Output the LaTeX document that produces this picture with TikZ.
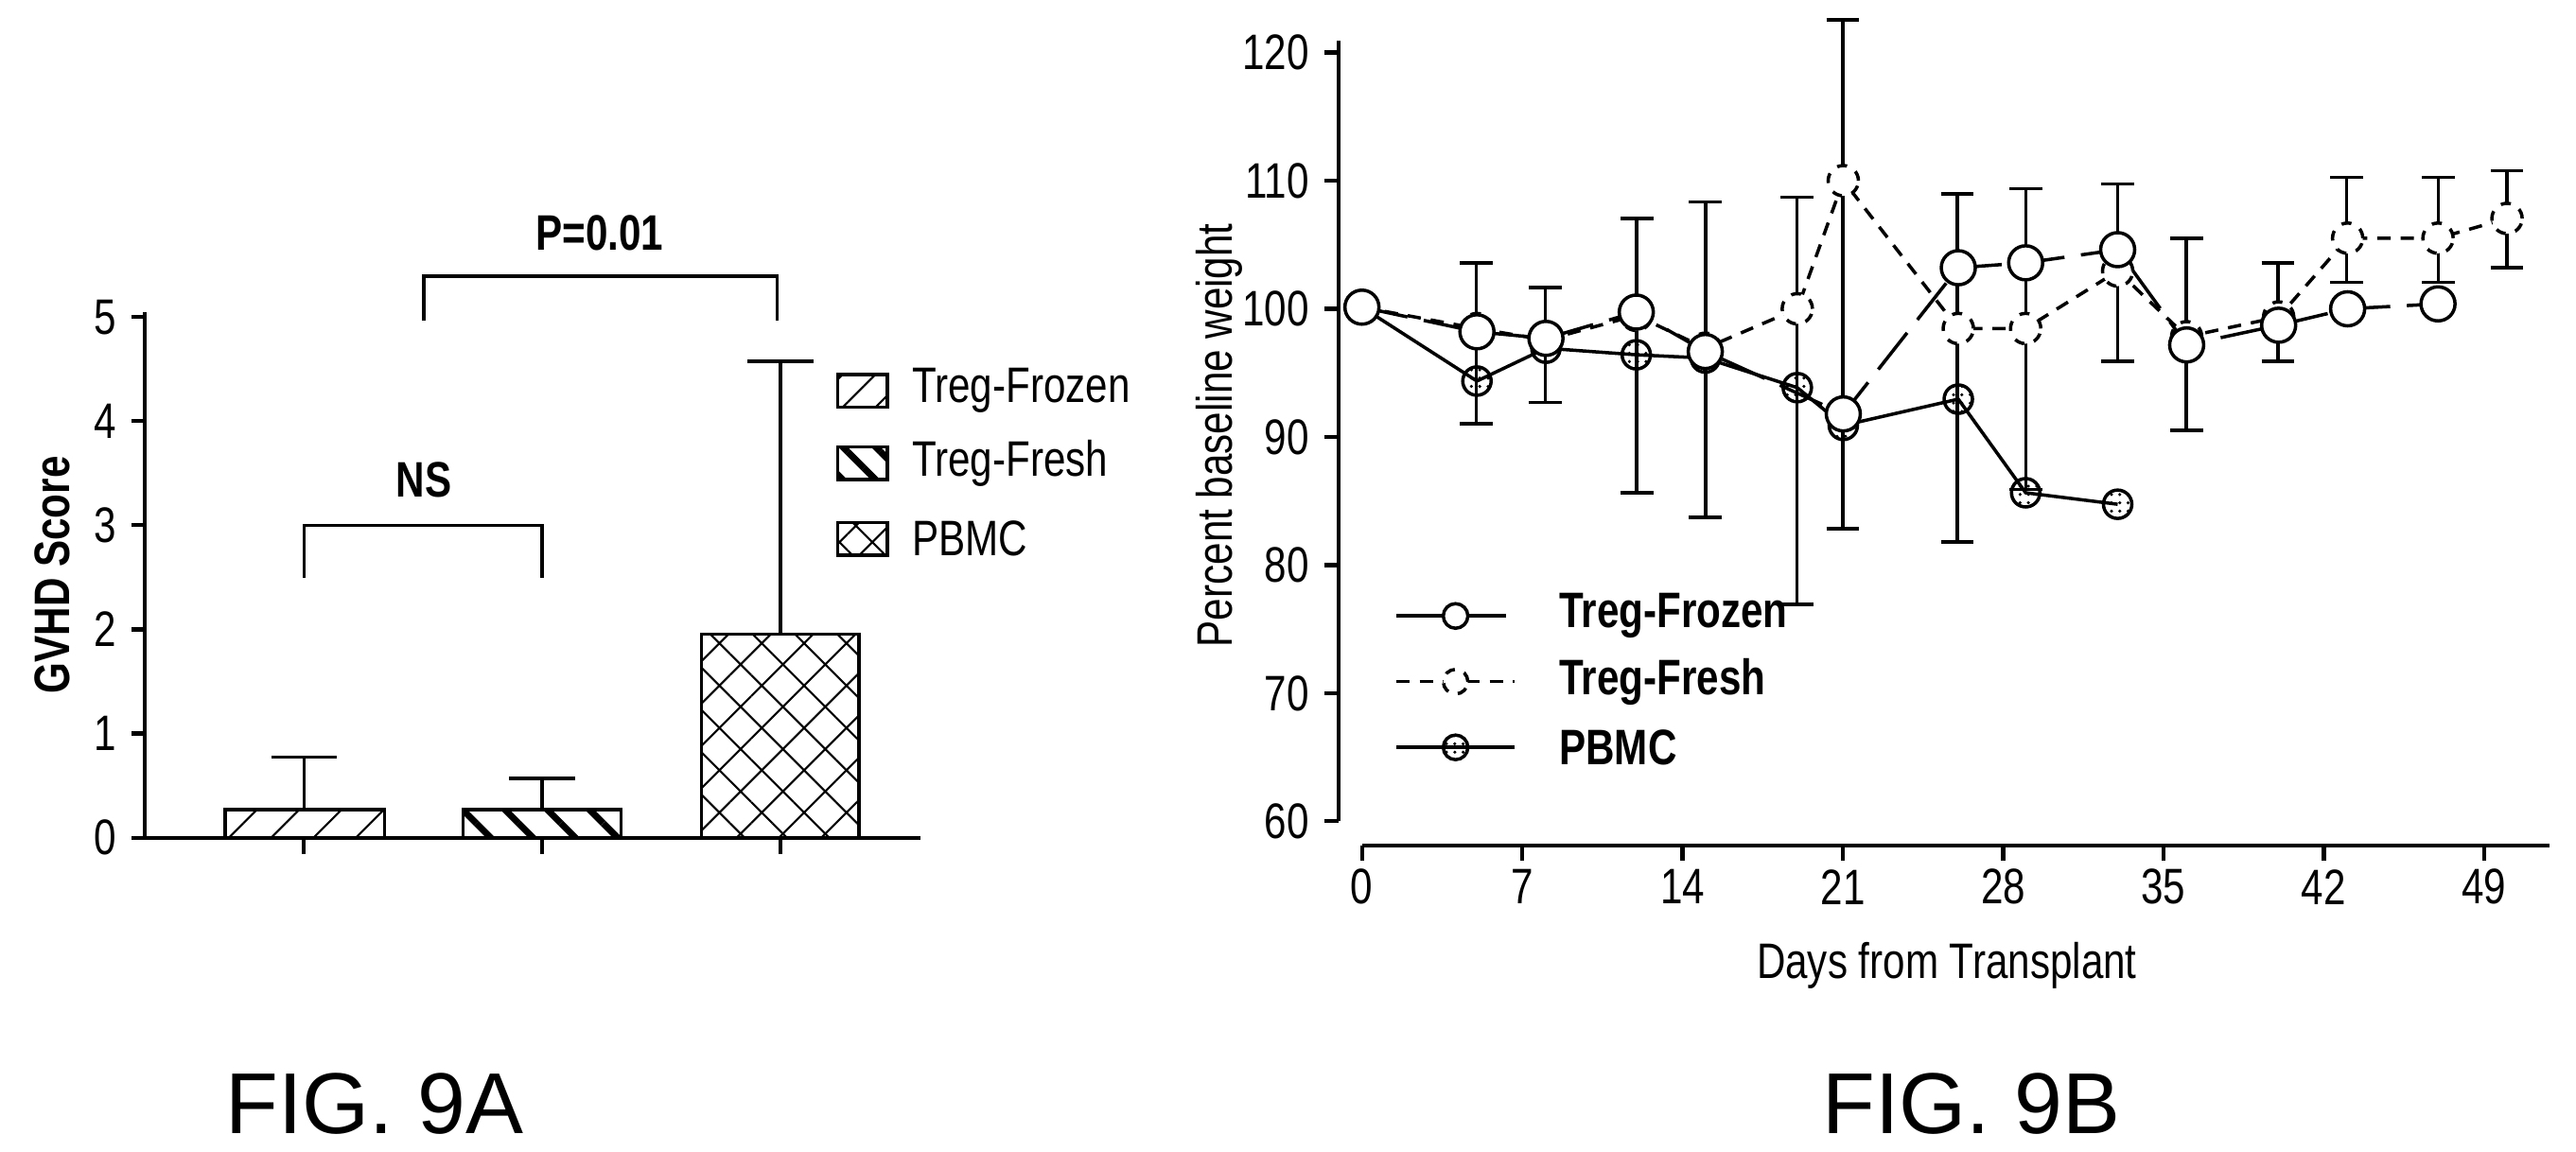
\documentclass[tikz,border=0pt]{standalone}
\usepackage{fontspec}
\setmainfont[FakeStretch=0.8]{Liberation Sans}
\newfontfamily\figfont{Liberation Sans}
\usetikzlibrary{patterns.meta}
\tikzset{
  axis/.style={line width=1.2pt},
  lbl/.style={font=\fontsize{15}{17}\selectfont},
  blbl/.style={font=\bfseries\fontsize{15}{17}\selectfont},
  ebar/.style={line width=1pt},
  dot/.style={circle,draw,line width=1pt,minimum size=0.3cm,inner sep=0pt,fill=white},
}
\begin{document}
\begin{tikzpicture}[x=0.017366cm,y=-0.017366cm]
  \useasboundingbox (0,0) rectangle (1568,700.8);
  % panel A
  \draw[axis] (88,190) -- (88,510) -- (560,510);
  \foreach \v in {0,...,5} {
    \draw[axis] (80,510-63.4*\v) -- (88,510-63.4*\v);
    \node[lbl,anchor=east] at (78,510-63.4*\v) {\v};
  }
  \foreach \x in {185,330,475} \draw[axis] (\x,510) -- (\x,520);
  \node[blbl,rotate=90] at (32,350) {GVHD Score};
  \draw[ebar] (185,493) -- (185,461) (165,461) -- (205,461);
  \draw[ebar] (330,493) -- (330,474) (310,474) -- (350,474);
  \draw[ebar] (475,386) -- (475,220) (455,220) -- (495,220);
  \draw[line width=1pt,pattern={Lines[angle=45,distance=9pt,line width=0.6pt]}] (137,510) rectangle (234,493);
  \draw[line width=1pt,pattern={Lines[angle=-45,distance=9pt,line width=2pt]}] (282,510) rectangle (378,493);
  \draw[line width=1pt,pattern={Hatch[angle=45,distance=9pt,line width=0.6pt]}] (427,510) rectangle (523,386);
  \draw[line width=1pt] (185,352) -- (185,320) -- (330,320) -- (330,352);
  \node[blbl] (ns) at (258,292) {NS};
  \draw[line width=1pt] (258,195) -- (258,168) -- (473,168) -- (473,195);
  \node[blbl] (pval) at (365,142) {P=0.01};
  \draw[line width=1pt,pattern={Lines[angle=45,distance=7pt,line width=0.6pt]}] (510,228) rectangle (540,248);
  \draw[line width=1pt,pattern={Lines[angle=-45,distance=7pt,line width=2pt]}] (510,272) rectangle (540,292);
  \draw[line width=1pt,pattern={Hatch[angle=45,distance=7pt,line width=0.6pt]}] (510,318) rectangle (540,338);
  \node[lbl,anchor=west] at (548,238) {Treg-Frozen};
  \node[lbl,anchor=west] at (548,282) {Treg-Fresh};
  \node[lbl,anchor=west] at (548,328) {PBMC};
  \node[font=\figfont\fontsize{26}{30}\selectfont] at (228,672) {FIG. 9A};
  % panel B
  \draw[axis] (815,25) -- (815,500);
  \foreach \v [count=\i from 0] in {60,70,...,120} {
    \draw[axis] (806,500-78*\i) -- (815,500-78*\i);
    \node[lbl,anchor=east] at (804,500-78*\i) {\v};
  }
  \draw[axis] (829,515) -- (1552,515);
  \foreach \d in {0,7,...,49} {
    \draw[axis] (829+13.94*\d,515) -- (829+13.94*\d,524);
    \node[lbl] at (829+13.94*\d,540) {\d};
  }
  \node[lbl] at (1185,588) {Days from Transplant};
  \node[lbl,rotate=90] at (742,265) {Percent baseline weight};
  \foreach \d/\t/\b in {5/160/258,8/175/245,12/133/300,15/123/315,19/120/368,21/12/322,26/118/330,29/115/298,33/112/220,36/145/262,40/160/220,43/108/172,47/108/172,50/104/163} {
    \draw[ebar] (829+13.94*\d,\t) -- (829+13.94*\d,\b);
    \draw[ebar] (829+13.94*\d-10,\t) -- (829+13.94*\d+10,\t);
    \draw[ebar] (829+13.94*\d-10,\b) -- (829+13.94*\d+10,\b);
  }
  % Treg-Fresh
  \draw[line width=1pt,dash pattern=on 4pt off 3pt] plot coordinates {(829,187) (899,200) (941,207) (996,192) (1038,212) (1094,188) (1122,110) (1192,200) (1233,200) (1289,165) (1331,205) (1387,193) (1429,145) (1484,145) (1526,133)};
  \foreach \x/\y in {829/187,899/200,941/207,996/192,1038/212,1094/188,1122/110,1192/200,1233/200,1289/165,1331/205,1387/193,1429/145,1484/145,1526/133}
    \node[dot,dashed,minimum size=0.32cm] at (\x,\y) {};
  % PBMC
  \draw[line width=1pt] plot coordinates {(829,187) (899,232) (941,212) (996,216) (1038,218) (1094,236) (1122,259) (1192,243) (1233,300) (1289,307)};
  \foreach \x/\y in {829/187,899/232,941/212,996/216,1038/218,1094/236,1122/259,1192/243,1233/300,1289/307}
    \node[dot,pattern={Dots[distance=2.5pt,radius=0.5pt]}] at (\x,\y) {};
  % Treg-Frozen
  \draw[line width=1pt,dash pattern=on 14pt off 5pt] plot coordinates {(829,187) (899,202) (941,206) (996,190) (1038,214) (1122,252) (1192,163) (1233,160) (1289,152) (1331,210) (1387,198) (1429,188) (1484,185)};
  \foreach \x/\y in {829/187,899/202,941/206,996/190,1038/214,1122/252,1192/163,1233/160,1289/152,1331/210,1387/198,1429/188,1484/185}
    \node[dot,minimum size=0.36cm] at (\x,\y) {};
  % legend B
  \draw[line width=1pt,dash pattern=on 14pt off 5pt] (850,375) -- (922,375);
  \node[dot,minimum size=0.26cm] at (886,375) {};
  \draw[line width=1pt,dash pattern=on 4pt off 3pt] (850,415) -- (922,415);
  \node[dot,dashed,minimum size=0.26cm] at (886,415) {};
  \draw[line width=1pt] (850,455) -- (922,455);
  \node[dot,minimum size=0.26cm,pattern={Dots[distance=2.5pt,radius=0.5pt]}] at (886,455) {};
  \node[blbl,anchor=west] at (942,375) {Treg-Frozen};
  \node[blbl,anchor=west] at (942,415) {Treg-Fresh};
  \node[blbl,anchor=west] at (942,455) {PBMC};
  \node[font=\figfont\fontsize{26}{30}\selectfont] at (1200,672) {FIG. 9B};
\end{tikzpicture}
\end{document}
